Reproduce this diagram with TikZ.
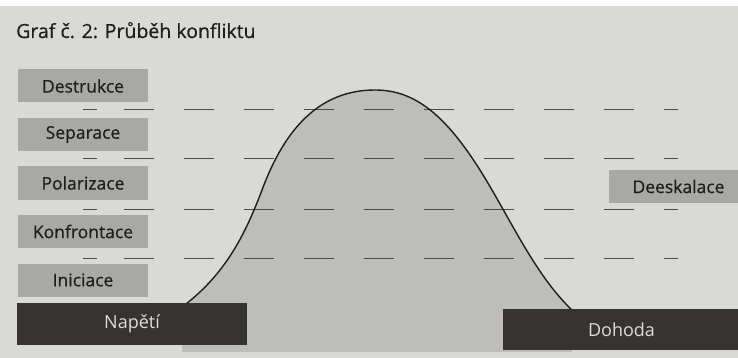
\documentclass[tikz,border=0pt]{standalone}
\usepackage{fontspec}
\setmainfont{Open Sans}
\newfontfamily\inkfont[FakeBold=0.6]{Open Sans}

\definecolor{paper}{HTML}{D9D9D6}
\definecolor{hill}{HTML}{BDBDBA}
\definecolor{stagegray}{HTML}{A8A8A5}
\definecolor{darkbox}{HTML}{363330}
\definecolor{inkgray}{HTML}{1E1E1E}
\definecolor{lighttext}{HTML}{DDDDDB}

\tikzset{
  stage/.style = {fill=stagegray, text=inkgray, inner sep=0pt,
                  minimum width=130pt, minimum height=33pt,
                  font=\inkfont\fontsize{17.5}{20}\selectfont},
  outcome/.style = {fill=darkbox, text=lighttext, inner sep=0pt,
                    font=\fontsize{18}{21}\selectfont},
  level/.style = {draw=inkgray!80, line width=1pt}
}

\begin{document}
\begin{tikzpicture}[x=1pt, y=-1pt]
    \clip (0,0) rectangle (738,358);
    % Paper
    \fill[paper] (0,0) rectangle (738,358);
    \fill[white!92!paper] (0,0) rectangle (738,6);

    % Title
    \node[anchor=base west, inner sep=0pt, text=inkgray, font=\inkfont\fontsize{19.5}{24}\selectfont]
      (title) at (16,38) {Graf č. 2: Průběh konfliktu};

    % Area under the curve
    \fill[hill] (182,307) .. controls (225,275) and (245,235) .. (262,190)
      .. controls (285,128) and (320,90) .. (375,90)
      .. controls (415,90) and (445,115) .. (480,170)
      .. controls (510,218) and (535,275) .. (572,310)
      -- (572,352) -- (182,352) -- cycle;

    % Levels
    \foreach \y in {110,159,209,258}{
      \draw[level] (83,\y) -- (97,\y);
      \foreach \x in {124,184,...,604}
        \draw[level] (\x,\y) -- ++(30,0);
      \draw[level] (664,\y) -- (678,\y);
    }

    % Curve
    \draw[inkgray, line width=1.4pt] (182,307) .. controls (225,275) and (245,235) .. (262,190)
      .. controls (285,128) and (320,90) .. (375,90)
      .. controls (415,90) and (445,115) .. (480,170)
      .. controls (510,218) and (535,275) .. (572,310);

    % Stages
    \foreach \name/\y/\label in {destrukce/86/Destrukce, separace/134.5/Separace,
                                 polarizace/183/Polarizace, konfrontace/231.5/Konfrontace,
                                 iniciace/280/Iniciace}
      \node[stage] (\name) at (83,\y) {\label};

    \node[stage, minimum width=139pt] (deeskalace) at (678.5,186.5) {Deeskalace};

    % Start and end
    \node[outcome, minimum width=230pt, minimum height=42pt] (napeti) at (132,324) {Napětí};
    \node[outcome, minimum width=237pt, minimum height=41pt] (dohoda) at (621.5,329.5) {Dohoda};
\end{tikzpicture}
\end{document}
